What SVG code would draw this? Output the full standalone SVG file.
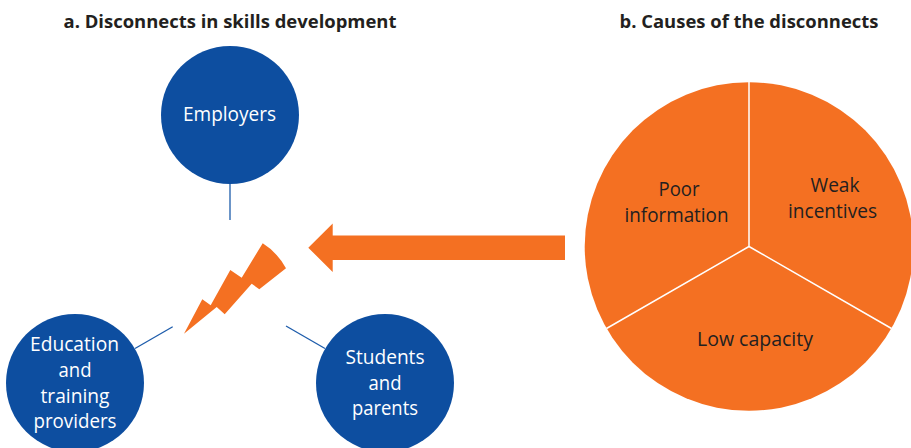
<svg xmlns="http://www.w3.org/2000/svg" width="911" height="448" viewBox="0 0 911 448">
<style>
text{font-family:"Open Sans","Noto Sans","Liberation Sans",sans-serif;text-anchor:middle}
.t{font-size:18.500px;font-weight:700;fill:#231f20}
.b{fill:#0d4ea0}
.w{font-size:19.500px;fill:#fff}
.d{font-size:19.500px;fill:#231f20}
.o{fill:#f47022}
.l{stroke:#1d5cab;stroke-width:1.3;fill:none}
.s{stroke:#fff;stroke-width:1.5;fill:none}
</style>
<rect width="911" height="448" fill="#fff"/>
<g id="titles">
<text class="t" x="230" y="28" textLength="333" lengthAdjust="spacingAndGlyphs">a. Disconnects in skills development</text>
<text class="t" x="749" y="28" textLength="259" lengthAdjust="spacingAndGlyphs">b. Causes of the disconnects</text>
</g>
<g id="connectors">
<path class="l" d="M230 183V220"/>
<path class="l" d="M135 348.500L172.700 326.700"/>
<path class="l" d="M286 326L325 348.500"/>
</g>
<g id="employers">
<circle class="b" cx="230" cy="115" r="69"/>
<text class="w" x="229.500" y="121" textLength="93" lengthAdjust="spacingAndGlyphs">Employers</text>
</g>
<g id="providers">
<circle class="b" cx="75" cy="383" r="69"/>
<text class="w" x="74.500" y="351" textLength="89" lengthAdjust="spacingAndGlyphs">Education</text>
<text class="w" x="75" y="377" textLength="33" lengthAdjust="spacingAndGlyphs">and</text>
<text class="w" x="75" y="403" textLength="69" lengthAdjust="spacingAndGlyphs">training</text>
<text class="w" x="75" y="428" textLength="83" lengthAdjust="spacingAndGlyphs">providers</text>
</g>
<g id="students">
<circle class="b" cx="385" cy="383" r="69"/>
<text class="w" x="385" y="364" textLength="79" lengthAdjust="spacingAndGlyphs">Students</text>
<text class="w" x="385" y="390" textLength="33" lengthAdjust="spacingAndGlyphs">and</text>
<text class="w" x="385" y="415" textLength="66" lengthAdjust="spacingAndGlyphs">parents</text>
</g>
<g id="bolt">
<path class="o" d="M184 333.700L202.300 299.300L210.700 305.300L230.300 270L241.700 277.700L262.700 243.300Q277 252 286 268.300L259.300 289.300L251.700 283.700L224.700 314.300L216.700 307Z"/>
</g>
<g id="arrow">
<path class="o" d="M308.300 247.700L332.700 223.500V235.500H565V260H332.700V272Z"/>
</g>
<g id="causes">
<circle class="o" cx="749" cy="246.500" r="164.300"/>
<path class="s" d="M749 82V246.500M749 246.500L606.500 328.500M749 246.500L891.500 328.500"/>
<text class="d" x="679" y="196" textLength="41" lengthAdjust="spacingAndGlyphs">Poor</text>
<text class="d" x="676.500" y="222" textLength="104" lengthAdjust="spacingAndGlyphs">information</text>
<text class="d" x="835" y="192" textLength="49" lengthAdjust="spacingAndGlyphs">Weak</text>
<text class="d" x="832.500" y="218" textLength="89" lengthAdjust="spacingAndGlyphs">incentives</text>
<text class="d" x="755" y="346" textLength="116" lengthAdjust="spacingAndGlyphs">Low capacity</text>
</g>
</svg>
